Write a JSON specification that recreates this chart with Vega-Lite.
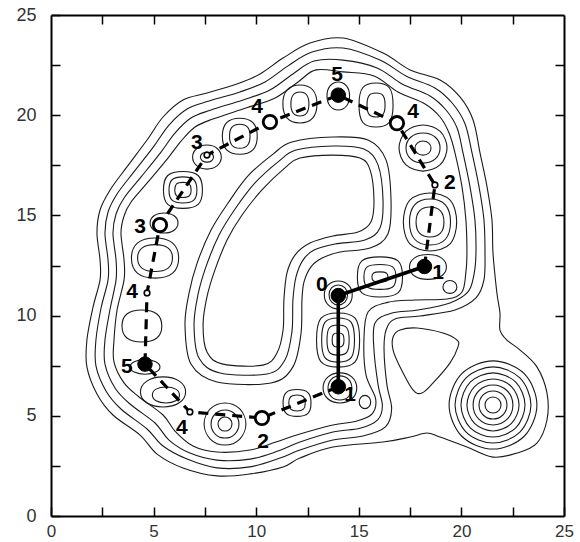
{
  "$schema": "https://vega.github.io/schema/vega-lite/v6.json",
  "width": 513,
  "height": 501,
  "autosize": {"type": "none"},
  "padding": {"left": 51, "top": 15, "right": 16, "bottom": 26},
  "background": "white",
  "config": {"view": {"stroke": null}},
  "datasets": {
    "contours": [
      {"c":"C1","i":0,"x":12.62,"y":23.6},{"c":"C1","i":1,"x":14.23,"y":23.85},{"c":"C1","i":2,"x":16.18,"y":23.1},{"c":"C1","i":3,"x":17.5,"y":22.26},{"c":"C1","i":4,"x":18.96,"y":21.76},{"c":"C1","i":5,"x":19.93,"y":20.91},{"c":"C1","i":6,"x":20.57,"y":19.76},{"c":"C1","i":7,"x":20.91,"y":18.11},{"c":"C1","i":8,"x":21.25,"y":16.42},{"c":"C1","i":9,"x":21.49,"y":14.77},{"c":"C1","i":10,"x":21.54,"y":13.12},{"c":"C1","i":11,"x":21.73,"y":11.13},{"c":"C1","i":12,"x":21.88,"y":10.13},{"c":"C1","i":13,"x":21.88,"y":9.28},{"c":"C1","i":14,"x":22.22,"y":8.78},{"c":"C1","i":15,"x":22.86,"y":8.28},{"c":"C1","i":16,"x":23.68,"y":7.44},{"c":"C1","i":17,"x":24.17,"y":6.14},{"c":"C1","i":18,"x":24.17,"y":4.79},{"c":"C1","i":19,"x":23.68,"y":3.64},{"c":"C1","i":20,"x":22.71,"y":3.14},{"c":"C1","i":21,"x":21.54,"y":2.94},{"c":"C1","i":22,"x":20.27,"y":3.44},{"c":"C1","i":23,"x":18.96,"y":3.94},{"c":"C1","i":24,"x":18.32,"y":4.14},{"c":"C1","i":25,"x":17.5,"y":3.94},{"c":"C1","i":26,"x":16.18,"y":3.69},{"c":"C1","i":27,"x":13.74,"y":3.44},{"c":"C1","i":28,"x":12.13,"y":2.89},{"c":"C1","i":29,"x":11.31,"y":2.45},{"c":"C1","i":30,"x":9.7,"y":2.1},{"c":"C1","i":31,"x":8.09,"y":2.0},{"c":"C1","i":32,"x":6.43,"y":2.4},{"c":"C1","i":33,"x":5.17,"y":3.09},{"c":"C1","i":34,"x":4.34,"y":4.04},{"c":"C1","i":35,"x":3.02,"y":5.04},{"c":"C1","i":36,"x":2.24,"y":6.09},{"c":"C1","i":37,"x":1.75,"y":7.44},{"c":"C1","i":38,"x":1.75,"y":8.78},{"c":"C1","i":39,"x":2.05,"y":10.43},{"c":"C1","i":40,"x":2.39,"y":11.78},{"c":"C1","i":41,"x":2.39,"y":12.77},{"c":"C1","i":42,"x":2.24,"y":14.12},{"c":"C1","i":43,"x":2.39,"y":15.27},{"c":"C1","i":44,"x":2.88,"y":16.27},{"c":"C1","i":45,"x":3.7,"y":17.42},{"c":"C1","i":46,"x":4.68,"y":18.76},{"c":"C1","i":47,"x":5.46,"y":19.91},{"c":"C1","i":48,"x":6.43,"y":20.76},{"c":"C1","i":49,"x":7.6,"y":21.11},{"c":"C1","i":50,"x":9.06,"y":21.56},{"c":"C1","i":51,"x":10.19,"y":22.06},{"c":"C1","i":52,"x":11.31,"y":22.85},
      {"c":"C2","i":0,"x":12.72,"y":23.15},{"c":"C2","i":1,"x":14.23,"y":23.35},{"c":"C2","i":2,"x":16.03,"y":22.75},{"c":"C2","i":3,"x":17.3,"y":21.96},{"c":"C2","i":4,"x":18.71,"y":21.36},{"c":"C2","i":5,"x":19.59,"y":20.56},{"c":"C2","i":6,"x":20.18,"y":19.56},{"c":"C2","i":7,"x":20.52,"y":18.11},{"c":"C2","i":8,"x":20.86,"y":16.42},{"c":"C2","i":9,"x":21.1,"y":14.77},{"c":"C2","i":10,"x":21.15,"y":13.12},{"c":"C2","i":11,"x":21.1,"y":11.78},{"c":"C2","i":12,"x":20.71,"y":10.88},{"c":"C2","i":13,"x":19.69,"y":10.28},{"c":"C2","i":14,"x":17.98,"y":9.98},{"c":"C2","i":15,"x":16.76,"y":9.83},{"c":"C2","i":16,"x":16.33,"y":9.28},{"c":"C2","i":17,"x":16.23,"y":8.28},{"c":"C2","i":18,"x":16.37,"y":6.54},{"c":"C2","i":19,"x":16.6,"y":5.35},{"c":"C2","i":20,"x":16.3,"y":4.45},{"c":"C2","i":21,"x":15.2,"y":3.99},{"c":"C2","i":22,"x":13.74,"y":3.79},{"c":"C2","i":23,"x":12.13,"y":3.29},{"c":"C2","i":24,"x":11.16,"y":2.89},{"c":"C2","i":25,"x":9.7,"y":2.45},{"c":"C2","i":26,"x":8.09,"y":2.4},{"c":"C2","i":27,"x":6.63,"y":2.84},{"c":"C2","i":28,"x":5.46,"y":3.49},{"c":"C2","i":29,"x":4.68,"y":4.34},{"c":"C2","i":30,"x":3.41,"y":5.34},{"c":"C2","i":31,"x":2.68,"y":6.24},{"c":"C2","i":32,"x":2.19,"y":7.49},{"c":"C2","i":33,"x":2.19,"y":8.78},{"c":"C2","i":34,"x":2.44,"y":10.38},{"c":"C2","i":35,"x":2.78,"y":11.78},{"c":"C2","i":36,"x":2.78,"y":12.77},{"c":"C2","i":37,"x":2.63,"y":14.12},{"c":"C2","i":38,"x":2.78,"y":15.17},{"c":"C2","i":39,"x":3.22,"y":16.07},{"c":"C2","i":40,"x":4.04,"y":17.17},{"c":"C2","i":41,"x":5.02,"y":18.46},{"c":"C2","i":42,"x":5.75,"y":19.51},{"c":"C2","i":43,"x":6.63,"y":20.31},{"c":"C2","i":44,"x":7.7,"y":20.71},{"c":"C2","i":45,"x":9.21,"y":21.16},{"c":"C2","i":46,"x":10.43,"y":21.66},{"c":"C2","i":47,"x":11.55,"y":22.46},
      {"c":"C3","i":0,"x":12.82,"y":22.7},{"c":"C3","i":1,"x":14.23,"y":22.75},{"c":"C3","i":2,"x":15.89,"y":22.36},{"c":"C3","i":3,"x":17.11,"y":21.56},{"c":"C3","i":4,"x":18.47,"y":20.96},{"c":"C3","i":5,"x":19.25,"y":20.26},{"c":"C3","i":6,"x":19.79,"y":19.36},{"c":"C3","i":7,"x":20.08,"y":18.11},{"c":"C3","i":8,"x":20.42,"y":16.42},{"c":"C3","i":9,"x":20.66,"y":14.77},{"c":"C3","i":10,"x":20.71,"y":13.12},{"c":"C3","i":11,"x":20.61,"y":12.03},{"c":"C3","i":12,"x":20.32,"y":11.18},{"c":"C3","i":13,"x":19.44,"y":10.63},{"c":"C3","i":14,"x":17.89,"y":10.28},{"c":"C3","i":15,"x":16.62,"y":10.13},{"c":"C3","i":16,"x":15.79,"y":9.63},{"c":"C3","i":17,"x":15.74,"y":8.28},{"c":"C3","i":18,"x":15.94,"y":6.54},{"c":"C3","i":19,"x":16.15,"y":5.5},{"c":"C3","i":20,"x":15.92,"y":4.8},{"c":"C3","i":21,"x":15.06,"y":4.38},{"c":"C3","i":22,"x":13.74,"y":4.19},{"c":"C3","i":23,"x":12.13,"y":3.69},{"c":"C3","i":24,"x":11.06,"y":3.24},{"c":"C3","i":25,"x":9.7,"y":2.84},{"c":"C3","i":26,"x":8.09,"y":2.79},{"c":"C3","i":27,"x":6.77,"y":3.14},{"c":"C3","i":28,"x":5.75,"y":3.79},{"c":"C3","i":29,"x":5.07,"y":4.64},{"c":"C3","i":30,"x":3.85,"y":5.59},{"c":"C3","i":31,"x":3.12,"y":6.39},{"c":"C3","i":32,"x":2.63,"y":7.58},{"c":"C3","i":33,"x":2.63,"y":8.78},{"c":"C3","i":34,"x":2.88,"y":10.33},{"c":"C3","i":35,"x":3.17,"y":11.78},{"c":"C3","i":36,"x":3.17,"y":12.77},{"c":"C3","i":37,"x":3.02,"y":14.12},{"c":"C3","i":38,"x":3.17,"y":15.07},{"c":"C3","i":39,"x":3.56,"y":15.87},{"c":"C3","i":40,"x":4.39,"y":16.92},{"c":"C3","i":41,"x":5.36,"y":18.16},{"c":"C3","i":42,"x":6.04,"y":19.11},{"c":"C3","i":43,"x":6.82,"y":19.86},{"c":"C3","i":44,"x":7.8,"y":20.26},{"c":"C3","i":45,"x":9.36,"y":20.76},{"c":"C3","i":46,"x":10.67,"y":21.26},{"c":"C3","i":47,"x":11.79,"y":22.06},
      {"c":"C4","i":0,"x":12.91,"y":22.26},{"c":"C4","i":1,"x":14.23,"y":22.16},{"c":"C4","i":2,"x":15.74,"y":21.96},{"c":"C4","i":3,"x":16.91,"y":21.16},{"c":"C4","i":4,"x":18.23,"y":20.56},{"c":"C4","i":5,"x":18.96,"y":19.91},{"c":"C4","i":6,"x":19.4,"y":19.11},{"c":"C4","i":7,"x":19.69,"y":18.11},{"c":"C4","i":8,"x":20.03,"y":16.42},{"c":"C4","i":9,"x":20.22,"y":14.77},{"c":"C4","i":10,"x":20.27,"y":13.12},{"c":"C4","i":11,"x":20.22,"y":12.18},{"c":"C4","i":12,"x":20.03,"y":11.18},{"c":"C4","i":13,"x":19.3,"y":10.83},{"c":"C4","i":14,"x":17.74,"y":10.78},{"c":"C4","i":15,"x":16.4,"y":10.66},{"c":"C4","i":16,"x":15.45,"y":10.18},{"c":"C4","i":17,"x":15.25,"y":8.78},{"c":"C4","i":18,"x":15.35,"y":7.04},{"c":"C4","i":19,"x":15.82,"y":5.85},{"c":"C4","i":20,"x":15.65,"y":5.1},{"c":"C4","i":21,"x":14.91,"y":4.74},{"c":"C4","i":22,"x":13.74,"y":4.54},{"c":"C4","i":23,"x":12.13,"y":4.09},{"c":"C4","i":24,"x":10.96,"y":3.69},{"c":"C4","i":25,"x":9.7,"y":3.29},{"c":"C4","i":26,"x":8.09,"y":3.19},{"c":"C4","i":27,"x":6.92,"y":3.49},{"c":"C4","i":28,"x":6.04,"y":4.24},{"c":"C4","i":29,"x":5.46,"y":5.04},{"c":"C4","i":30,"x":4.29,"y":5.94},{"c":"C4","i":31,"x":3.56,"y":6.64},{"c":"C4","i":32,"x":3.07,"y":7.68},{"c":"C4","i":33,"x":3.07,"y":8.78},{"c":"C4","i":34,"x":3.22,"y":10.28},{"c":"C4","i":35,"x":3.56,"y":11.78},{"c":"C4","i":36,"x":3.56,"y":12.77},{"c":"C4","i":37,"x":3.41,"y":14.12},{"c":"C4","i":38,"x":3.56,"y":14.97},{"c":"C4","i":39,"x":3.9,"y":15.67},{"c":"C4","i":40,"x":4.73,"y":16.67},{"c":"C4","i":41,"x":5.7,"y":17.86},{"c":"C4","i":42,"x":6.34,"y":18.71},{"c":"C4","i":43,"x":7.02,"y":19.41},{"c":"C4","i":44,"x":7.89,"y":19.81},{"c":"C4","i":45,"x":9.5,"y":20.36},{"c":"C4","i":46,"x":10.92,"y":20.86},{"c":"C4","i":47,"x":12.04,"y":21.66},
      {"c":"H1","i":0,"x":12.13,"y":17.86},{"c":"H1","i":1,"x":13.74,"y":18.01},{"c":"H1","i":2,"x":15.06,"y":17.86},{"c":"H1","i":3,"x":15.55,"y":17.27},{"c":"H1","i":4,"x":15.74,"y":15.77},{"c":"H1","i":5,"x":15.59,"y":14.67},{"c":"H1","i":6,"x":14.96,"y":14.17},{"c":"H1","i":7,"x":13.74,"y":13.97},{"c":"H1","i":8,"x":12.62,"y":13.62},{"c":"H1","i":9,"x":11.89,"y":13.02},{"c":"H1","i":10,"x":11.5,"y":12.13},{"c":"H1","i":11,"x":11.35,"y":10.78},{"c":"H1","i":12,"x":11.31,"y":9.28},{"c":"H1","i":13,"x":11.01,"y":8.13},{"c":"H1","i":14,"x":10.33,"y":7.53},{"c":"H1","i":15,"x":8.38,"y":7.58},{"c":"H1","i":16,"x":7.6,"y":8.18},{"c":"H1","i":17,"x":7.41,"y":9.53},{"c":"H1","i":18,"x":7.6,"y":10.93},{"c":"H1","i":19,"x":7.99,"y":12.28},{"c":"H1","i":20,"x":8.58,"y":13.77},{"c":"H1","i":21,"x":9.31,"y":15.02},{"c":"H1","i":22,"x":10.28,"y":16.27},{"c":"H1","i":23,"x":11.4,"y":17.37},
      {"c":"H2","i":0,"x":11.94,"y":18.26},{"c":"H2","i":1,"x":13.74,"y":18.46},{"c":"H2","i":2,"x":15.25,"y":18.31},{"c":"H2","i":3,"x":15.94,"y":17.51},{"c":"H2","i":4,"x":16.18,"y":15.77},{"c":"H2","i":5,"x":16.03,"y":14.37},{"c":"H2","i":6,"x":15.3,"y":13.77},{"c":"H2","i":7,"x":13.84,"y":13.57},{"c":"H2","i":8,"x":12.82,"y":13.27},{"c":"H2","i":9,"x":12.28,"y":12.77},{"c":"H2","i":10,"x":11.94,"y":11.93},{"c":"H2","i":11,"x":11.79,"y":10.78},{"c":"H2","i":12,"x":11.74,"y":9.18},{"c":"H2","i":13,"x":11.4,"y":7.78},{"c":"H2","i":14,"x":10.53,"y":7.09},{"c":"H2","i":15,"x":8.24,"y":7.14},{"c":"H2","i":16,"x":7.21,"y":7.88},{"c":"H2","i":17,"x":6.97,"y":9.53},{"c":"H2","i":18,"x":7.16,"y":11.03},{"c":"H2","i":19,"x":7.55,"y":12.43},{"c":"H2","i":20,"x":8.19,"y":14.02},{"c":"H2","i":21,"x":8.97,"y":15.32},{"c":"H2","i":22,"x":9.94,"y":16.62},{"c":"H2","i":23,"x":11.11,"y":17.71},
      {"c":"H3","i":0,"x":11.74,"y":18.66},{"c":"H3","i":1,"x":13.74,"y":18.91},{"c":"H3","i":2,"x":15.45,"y":18.76},{"c":"H3","i":3,"x":16.33,"y":17.76},{"c":"H3","i":4,"x":16.57,"y":15.77},{"c":"H3","i":5,"x":16.42,"y":14.07},{"c":"H3","i":6,"x":15.55,"y":13.37},{"c":"H3","i":7,"x":14.08,"y":13.17},{"c":"H3","i":8,"x":13.21,"y":12.87},{"c":"H3","i":9,"x":12.67,"y":12.43},{"c":"H3","i":10,"x":12.33,"y":11.68},{"c":"H3","i":11,"x":12.23,"y":10.78},{"c":"H3","i":12,"x":12.18,"y":9.08},{"c":"H3","i":13,"x":11.79,"y":7.44},{"c":"H3","i":14,"x":10.72,"y":6.64},{"c":"H3","i":15,"x":8.09,"y":6.69},{"c":"H3","i":16,"x":6.82,"y":7.58},{"c":"H3","i":17,"x":6.53,"y":9.53},{"c":"H3","i":18,"x":6.73,"y":11.13},{"c":"H3","i":19,"x":7.12,"y":12.62},{"c":"H3","i":20,"x":7.8,"y":14.27},{"c":"H3","i":21,"x":8.63,"y":15.62},{"c":"H3","i":22,"x":9.6,"y":16.97},{"c":"H3","i":23,"x":10.82,"y":18.06},
      {"c":"T","i":0,"x":16.67,"y":8.93},{"c":"T","i":1,"x":17.01,"y":9.28},{"c":"T","i":2,"x":17.84,"y":9.38},{"c":"T","i":3,"x":19.1,"y":9.13},{"c":"T","i":4,"x":19.79,"y":8.78},{"c":"T","i":5,"x":19.83,"y":8.43},{"c":"T","i":6,"x":19.44,"y":7.63},{"c":"T","i":7,"x":18.62,"y":6.64},{"c":"T","i":8,"x":18.08,"y":6.14},{"c":"T","i":9,"x":17.64,"y":6.29},{"c":"T","i":10,"x":17.01,"y":7.44},{"c":"T","i":11,"x":16.67,"y":8.28},
      {"c":"B1","i":0,"x":21.93,"y":5.54},{"c":"B1","i":1,"x":21.82,"y":5.82},{"c":"B1","i":2,"x":21.54,"y":5.94},{"c":"B1","i":3,"x":21.26,"y":5.82},{"c":"B1","i":4,"x":21.15,"y":5.54},{"c":"B1","i":5,"x":21.26,"y":5.26},{"c":"B1","i":6,"x":21.54,"y":5.14},{"c":"B1","i":7,"x":21.82,"y":5.26},
      {"c":"B2","i":0,"x":22.22,"y":5.54},{"c":"B2","i":1,"x":22.02,"y":6.04},{"c":"B2","i":2,"x":21.54,"y":6.24},{"c":"B2","i":3,"x":21.06,"y":6.04},{"c":"B2","i":4,"x":20.86,"y":5.54},{"c":"B2","i":5,"x":21.06,"y":5.04},{"c":"B2","i":6,"x":21.54,"y":4.84},{"c":"B2","i":7,"x":22.02,"y":5.04},
      {"c":"B3","i":0,"x":22.51,"y":5.54},{"c":"B3","i":1,"x":22.23,"y":6.25},{"c":"B3","i":2,"x":21.54,"y":6.54},{"c":"B3","i":3,"x":20.85,"y":6.25},{"c":"B3","i":4,"x":20.57,"y":5.54},{"c":"B3","i":5,"x":20.85,"y":4.83},{"c":"B3","i":6,"x":21.54,"y":4.54},{"c":"B3","i":7,"x":22.23,"y":4.83},
      {"c":"B4","i":0,"x":22.81,"y":5.54},{"c":"B4","i":1,"x":22.44,"y":6.46},{"c":"B4","i":2,"x":21.54,"y":6.84},{"c":"B4","i":3,"x":20.64,"y":6.46},{"c":"B4","i":4,"x":20.27,"y":5.54},{"c":"B4","i":5,"x":20.64,"y":4.62},{"c":"B4","i":6,"x":21.54,"y":4.24},{"c":"B4","i":7,"x":22.44,"y":4.62},
      {"c":"B5","i":0,"x":23.1,"y":5.54},{"c":"B5","i":1,"x":22.65,"y":6.68},{"c":"B5","i":2,"x":21.54,"y":7.14},{"c":"B5","i":3,"x":20.43,"y":6.68},{"c":"B5","i":4,"x":19.98,"y":5.54},{"c":"B5","i":5,"x":20.43,"y":4.4},{"c":"B5","i":6,"x":21.54,"y":3.94},{"c":"B5","i":7,"x":22.65,"y":4.4},
      {"c":"B6","i":0,"x":23.39,"y":5.54},{"c":"B6","i":1,"x":22.85,"y":6.89},{"c":"B6","i":2,"x":21.54,"y":7.44},{"c":"B6","i":3,"x":20.23,"y":6.89},{"c":"B6","i":4,"x":19.69,"y":5.54},{"c":"B6","i":5,"x":20.23,"y":4.19},{"c":"B6","i":6,"x":21.54,"y":3.64},{"c":"B6","i":7,"x":22.85,"y":4.19},
      {"c":"B7","i":0,"x":23.68,"y":5.54},{"c":"B7","i":1,"x":23.06,"y":7.1},{"c":"B7","i":2,"x":21.54,"y":7.74},{"c":"B7","i":3,"x":20.02,"y":7.1},{"c":"B7","i":4,"x":19.4,"y":5.54},{"c":"B7","i":5,"x":20.02,"y":3.98},{"c":"B7","i":6,"x":21.54,"y":3.34},{"c":"B7","i":7,"x":23.06,"y":3.98},
      {"c":"c2a","i":0,"x":8.82,"y":4.59},{"c":"c2a","i":1,"x":8.72,"y":4.84},{"c":"c2a","i":2,"x":8.48,"y":4.94},{"c":"c2a","i":3,"x":8.24,"y":4.84},{"c":"c2a","i":4,"x":8.14,"y":4.59},{"c":"c2a","i":5,"x":8.24,"y":4.34},{"c":"c2a","i":6,"x":8.48,"y":4.24},{"c":"c2a","i":7,"x":8.72,"y":4.34},
      {"c":"c2b","i":0,"x":9.16,"y":4.59},{"c":"c2b","i":1,"x":8.96,"y":5.09},{"c":"c2b","i":2,"x":8.48,"y":5.29},{"c":"c2b","i":3,"x":8.0,"y":5.09},{"c":"c2b","i":4,"x":7.8,"y":4.59},{"c":"c2b","i":5,"x":8.0,"y":4.09},{"c":"c2b","i":6,"x":8.48,"y":3.89},{"c":"c2b","i":7,"x":8.96,"y":4.09},
      {"c":"c2c","i":0,"x":9.5,"y":4.59},{"c":"c2c","i":1,"x":9.2,"y":5.34},{"c":"c2c","i":2,"x":8.48,"y":5.64},{"c":"c2c","i":3,"x":7.76,"y":5.34},{"c":"c2c","i":4,"x":7.46,"y":4.59},{"c":"c2c","i":5,"x":7.76,"y":3.84},{"c":"c2c","i":6,"x":8.48,"y":3.54},{"c":"c2c","i":7,"x":9.2,"y":3.84},
      {"c":"c3a","i":0,"x":6.26,"y":6.04},{"c":"c3a","i":1,"x":6.08,"y":6.33},{"c":"c3a","i":2,"x":5.6,"y":6.44},{"c":"c3a","i":3,"x":5.12,"y":6.33},{"c":"c3a","i":4,"x":4.94,"y":6.04},{"c":"c3a","i":5,"x":5.12,"y":5.75},{"c":"c3a","i":6,"x":5.6,"y":5.64},{"c":"c3a","i":7,"x":6.08,"y":5.75},
      {"c":"c3b","i":0,"x":6.56,"y":6.19},{"c":"c3b","i":1,"x":6.25,"y":6.73},{"c":"c3b","i":2,"x":5.46,"y":6.94},{"c":"c3b","i":3,"x":4.67,"y":6.73},{"c":"c3b","i":4,"x":4.36,"y":6.19},{"c":"c3b","i":5,"x":4.67,"y":5.65},{"c":"c3b","i":6,"x":5.46,"y":5.44},{"c":"c3b","i":7,"x":6.25,"y":5.65},
      {"c":"c4","i":0,"x":5.31,"y":7.44},{"c":"c4","i":1,"x":5.1,"y":7.7},{"c":"c4","i":2,"x":4.58,"y":7.81},{"c":"c4","i":3,"x":4.06,"y":7.7},{"c":"c4","i":4,"x":3.85,"y":7.44},{"c":"c4","i":5,"x":4.06,"y":7.18},{"c":"c4","i":6,"x":4.58,"y":7.07},{"c":"c4","i":7,"x":5.1,"y":7.18},
      {"c":"c5","i":0,"x":5.4,"y":9.48},{"c":"c5","i":1,"x":5.16,"y":10.08},{"c":"c5","i":2,"x":4.43,"y":10.28},{"c":"c5","i":3,"x":3.7,"y":10.08},{"c":"c5","i":4,"x":3.46,"y":9.48},{"c":"c5","i":5,"x":3.7,"y":8.88},{"c":"c5","i":6,"x":4.43,"y":8.68},{"c":"c5","i":7,"x":5.16,"y":8.88},
      {"c":"c6a","i":0,"x":5.92,"y":12.87},{"c":"c6a","i":1,"x":5.71,"y":13.37},{"c":"c6a","i":2,"x":5.07,"y":13.54},{"c":"c6a","i":3,"x":4.43,"y":13.37},{"c":"c6a","i":4,"x":4.22,"y":12.87},{"c":"c6a","i":5,"x":4.43,"y":12.37},{"c":"c6a","i":6,"x":5.07,"y":12.2},{"c":"c6a","i":7,"x":5.71,"y":12.37},
      {"c":"c6b","i":0,"x":6.22,"y":12.87},{"c":"c6b","i":1,"x":5.93,"y":13.62},{"c":"c6b","i":2,"x":5.07,"y":13.87},{"c":"c6b","i":3,"x":4.21,"y":13.62},{"c":"c6b","i":4,"x":3.92,"y":12.87},{"c":"c6b","i":5,"x":4.21,"y":12.12},{"c":"c6b","i":6,"x":5.07,"y":11.87},{"c":"c6b","i":7,"x":5.93,"y":12.12},
      {"c":"c7","i":0,"x":6.19,"y":14.62},{"c":"c7","i":1,"x":6.0,"y":14.98},{"c":"c7","i":2,"x":5.51,"y":15.12},{"c":"c7","i":3,"x":5.02,"y":14.98},{"c":"c7","i":4,"x":4.83,"y":14.62},{"c":"c7","i":5,"x":5.02,"y":14.26},{"c":"c7","i":6,"x":5.51,"y":14.12},{"c":"c7","i":7,"x":6.0,"y":14.26},
      {"c":"c8a","i":0,"x":6.83,"y":16.27},{"c":"c8a","i":1,"x":6.74,"y":16.57},{"c":"c8a","i":2,"x":6.43,"y":16.65},{"c":"c8a","i":3,"x":6.12,"y":16.57},{"c":"c8a","i":4,"x":6.03,"y":16.27},{"c":"c8a","i":5,"x":6.12,"y":15.97},{"c":"c8a","i":6,"x":6.43,"y":15.89},{"c":"c8a","i":7,"x":6.74,"y":15.97},
      {"c":"c8b","i":0,"x":7.11,"y":16.27},{"c":"c8b","i":1,"x":6.96,"y":16.78},{"c":"c8b","i":2,"x":6.43,"y":16.92},{"c":"c8b","i":3,"x":5.9,"y":16.78},{"c":"c8b","i":4,"x":5.75,"y":16.27},{"c":"c8b","i":5,"x":5.9,"y":15.76},{"c":"c8b","i":6,"x":6.43,"y":15.62},{"c":"c8b","i":7,"x":6.96,"y":15.76},
      {"c":"c8c","i":0,"x":7.38,"y":16.27},{"c":"c8c","i":1,"x":7.17,"y":16.99},{"c":"c8c","i":2,"x":6.43,"y":17.19},{"c":"c8c","i":3,"x":5.69,"y":16.99},{"c":"c8c","i":4,"x":5.48,"y":16.27},{"c":"c8c","i":5,"x":5.69,"y":15.55},{"c":"c8c","i":6,"x":6.43,"y":15.35},{"c":"c8c","i":7,"x":7.17,"y":15.55},
      {"c":"c9a","i":0,"x":7.92,"y":17.91},{"c":"c9a","i":1,"x":7.83,"y":18.09},{"c":"c9a","i":2,"x":7.6,"y":18.16},{"c":"c9a","i":3,"x":7.37,"y":18.09},{"c":"c9a","i":4,"x":7.28,"y":17.91},{"c":"c9a","i":5,"x":7.37,"y":17.73},{"c":"c9a","i":6,"x":7.6,"y":17.66},{"c":"c9a","i":7,"x":7.83,"y":17.73},
      {"c":"c9b","i":0,"x":8.3,"y":17.91},{"c":"c9b","i":1,"x":8.1,"y":18.34},{"c":"c9b","i":2,"x":7.6,"y":18.51},{"c":"c9b","i":3,"x":7.1,"y":18.34},{"c":"c9b","i":4,"x":6.9,"y":17.91},{"c":"c9b","i":5,"x":7.1,"y":17.48},{"c":"c9b","i":6,"x":7.6,"y":17.31},{"c":"c9b","i":7,"x":8.1,"y":17.48},
      {"c":"c10a","i":0,"x":9.7,"y":18.95},{"c":"c10a","i":1,"x":9.58,"y":19.4},{"c":"c10a","i":2,"x":9.2,"y":19.55},{"c":"c10a","i":3,"x":8.82,"y":19.4},{"c":"c10a","i":4,"x":8.7,"y":18.95},{"c":"c10a","i":5,"x":8.82,"y":18.5},{"c":"c10a","i":6,"x":9.2,"y":18.35},{"c":"c10a","i":7,"x":9.58,"y":18.5},
      {"c":"c10b","i":0,"x":10.05,"y":18.95},{"c":"c10b","i":1,"x":9.84,"y":19.63},{"c":"c10b","i":2,"x":9.2,"y":19.85},{"c":"c10b","i":3,"x":8.56,"y":19.63},{"c":"c10b","i":4,"x":8.35,"y":18.95},{"c":"c10b","i":5,"x":8.56,"y":18.27},{"c":"c10b","i":6,"x":9.2,"y":18.05},{"c":"c10b","i":7,"x":9.84,"y":18.27},
      {"c":"c11a","i":0,"x":12.57,"y":20.56},{"c":"c11a","i":1,"x":12.46,"y":21.01},{"c":"c11a","i":2,"x":12.13,"y":21.16},{"c":"c11a","i":3,"x":11.8,"y":21.01},{"c":"c11a","i":4,"x":11.69,"y":20.56},{"c":"c11a","i":5,"x":11.8,"y":20.11},{"c":"c11a","i":6,"x":12.13,"y":19.96},{"c":"c11a","i":7,"x":12.46,"y":20.11},
      {"c":"c11b","i":0,"x":12.96,"y":20.56},{"c":"c11b","i":1,"x":12.75,"y":21.27},{"c":"c11b","i":2,"x":12.13,"y":21.51},{"c":"c11b","i":3,"x":11.51,"y":21.27},{"c":"c11b","i":4,"x":11.3,"y":20.56},{"c":"c11b","i":5,"x":11.51,"y":19.85},{"c":"c11b","i":6,"x":12.13,"y":19.61},{"c":"c11b","i":7,"x":12.75,"y":19.85},
      {"c":"c12","i":0,"x":14.55,"y":20.96},{"c":"c12","i":1,"x":14.4,"y":21.46},{"c":"c12","i":2,"x":14.0,"y":21.66},{"c":"c12","i":3,"x":13.6,"y":21.46},{"c":"c12","i":4,"x":13.45,"y":20.96},{"c":"c12","i":5,"x":13.6,"y":20.46},{"c":"c12","i":6,"x":14.0,"y":20.26},{"c":"c12","i":7,"x":14.4,"y":20.46},
      {"c":"c13a","i":0,"x":16.28,"y":20.51},{"c":"c13a","i":1,"x":16.18,"y":20.98},{"c":"c13a","i":2,"x":15.84,"y":21.11},{"c":"c13a","i":3,"x":15.5,"y":20.98},{"c":"c13a","i":4,"x":15.4,"y":20.51},{"c":"c13a","i":5,"x":15.5,"y":20.04},{"c":"c13a","i":6,"x":15.84,"y":19.91},{"c":"c13a","i":7,"x":16.18,"y":20.04},
      {"c":"c13b","i":0,"x":16.67,"y":20.51},{"c":"c13b","i":1,"x":16.49,"y":21.37},{"c":"c13b","i":2,"x":15.84,"y":21.61},{"c":"c13b","i":3,"x":15.19,"y":21.37},{"c":"c13b","i":4,"x":15.01,"y":20.51},{"c":"c13b","i":5,"x":15.19,"y":19.65},{"c":"c13b","i":6,"x":15.84,"y":19.41},{"c":"c13b","i":7,"x":16.49,"y":19.65},
      {"c":"c15a","i":0,"x":18.52,"y":18.36},{"c":"c15a","i":1,"x":18.41,"y":18.61},{"c":"c15a","i":2,"x":18.13,"y":18.71},{"c":"c15a","i":3,"x":17.85,"y":18.61},{"c":"c15a","i":4,"x":17.74,"y":18.36},{"c":"c15a","i":5,"x":17.85,"y":18.11},{"c":"c15a","i":6,"x":18.13,"y":18.01},{"c":"c15a","i":7,"x":18.41,"y":18.11},
      {"c":"c15b","i":0,"x":18.96,"y":18.36},{"c":"c15b","i":1,"x":18.73,"y":18.9},{"c":"c15b","i":2,"x":18.13,"y":19.11},{"c":"c15b","i":3,"x":17.53,"y":18.9},{"c":"c15b","i":4,"x":17.3,"y":18.36},{"c":"c15b","i":5,"x":17.53,"y":17.82},{"c":"c15b","i":6,"x":18.13,"y":17.61},{"c":"c15b","i":7,"x":18.73,"y":17.82},
      {"c":"c15c","i":0,"x":19.3,"y":18.36},{"c":"c15c","i":1,"x":18.97,"y":19.19},{"c":"c15c","i":2,"x":18.13,"y":19.51},{"c":"c15c","i":3,"x":17.29,"y":19.19},{"c":"c15c","i":4,"x":16.96,"y":18.36},{"c":"c15c","i":5,"x":17.29,"y":17.53},{"c":"c15c","i":6,"x":18.13,"y":17.21},{"c":"c15c","i":7,"x":18.97,"y":17.53},
      {"c":"c17a","i":0,"x":19.15,"y":14.67},{"c":"c17a","i":1,"x":18.98,"y":15.23},{"c":"c17a","i":2,"x":18.47,"y":15.42},{"c":"c17a","i":3,"x":17.96,"y":15.23},{"c":"c17a","i":4,"x":17.79,"y":14.67},{"c":"c17a","i":5,"x":17.96,"y":14.11},{"c":"c17a","i":6,"x":18.47,"y":13.92},{"c":"c17a","i":7,"x":18.98,"y":14.11},
      {"c":"c17b","i":0,"x":19.47,"y":14.67},{"c":"c17b","i":1,"x":19.22,"y":15.53},{"c":"c17b","i":2,"x":18.47,"y":15.82},{"c":"c17b","i":3,"x":17.72,"y":15.53},{"c":"c17b","i":4,"x":17.47,"y":14.67},{"c":"c17b","i":5,"x":17.72,"y":13.81},{"c":"c17b","i":6,"x":18.47,"y":13.52},{"c":"c17b","i":7,"x":19.22,"y":13.81},
      {"c":"c17c","i":0,"x":19.77,"y":14.67},{"c":"c17c","i":1,"x":19.45,"y":15.76},{"c":"c17c","i":2,"x":18.47,"y":16.12},{"c":"c17c","i":3,"x":17.49,"y":15.76},{"c":"c17c","i":4,"x":17.17,"y":14.67},{"c":"c17c","i":5,"x":17.49,"y":13.58},{"c":"c17c","i":6,"x":18.47,"y":13.22},{"c":"c17c","i":7,"x":19.45,"y":13.58},
      {"c":"c18","i":0,"x":19.27,"y":12.43},{"c":"c18","i":1,"x":19.02,"y":12.88},{"c":"c18","i":2,"x":18.37,"y":13.05},{"c":"c18","i":3,"x":17.72,"y":12.88},{"c":"c18","i":4,"x":17.47,"y":12.43},{"c":"c18","i":5,"x":17.72,"y":11.98},{"c":"c18","i":6,"x":18.37,"y":11.81},{"c":"c18","i":7,"x":19.02,"y":11.98},
      {"c":"c19","i":0,"x":19.78,"y":11.43},{"c":"c19","i":1,"x":19.68,"y":11.66},{"c":"c19","i":2,"x":19.44,"y":11.75},{"c":"c19","i":3,"x":19.2,"y":11.66},{"c":"c19","i":4,"x":19.1,"y":11.43},{"c":"c19","i":5,"x":19.2,"y":11.2},{"c":"c19","i":6,"x":19.44,"y":11.11},{"c":"c19","i":7,"x":19.68,"y":11.2},
      {"c":"c20a","i":0,"x":16.42,"y":11.93},{"c":"c20a","i":1,"x":16.34,"y":12.13},{"c":"c20a","i":2,"x":16.03,"y":12.18},{"c":"c20a","i":3,"x":15.72,"y":12.13},{"c":"c20a","i":4,"x":15.64,"y":11.93},{"c":"c20a","i":5,"x":15.72,"y":11.73},{"c":"c20a","i":6,"x":16.03,"y":11.68},{"c":"c20a","i":7,"x":16.34,"y":11.73},
      {"c":"c20b","i":0,"x":16.81,"y":11.93},{"c":"c20b","i":1,"x":16.65,"y":12.43},{"c":"c20b","i":2,"x":16.03,"y":12.55},{"c":"c20b","i":3,"x":15.41,"y":12.43},{"c":"c20b","i":4,"x":15.25,"y":11.93},{"c":"c20b","i":5,"x":15.41,"y":11.43},{"c":"c20b","i":6,"x":16.03,"y":11.31},{"c":"c20b","i":7,"x":16.65,"y":11.43},
      {"c":"c20c","i":0,"x":17.13,"y":11.93},{"c":"c20c","i":1,"x":16.91,"y":12.73},{"c":"c20c","i":2,"x":16.03,"y":12.93},{"c":"c20c","i":3,"x":15.15,"y":12.73},{"c":"c20c","i":4,"x":14.93,"y":11.93},{"c":"c20c","i":5,"x":15.15,"y":11.13},{"c":"c20c","i":6,"x":16.03,"y":10.93},{"c":"c20c","i":7,"x":16.91,"y":11.13},
      {"c":"c21a","i":0,"x":14.45,"y":11.03},{"c":"c21a","i":1,"x":14.32,"y":11.39},{"c":"c21a","i":2,"x":14.0,"y":11.53},{"c":"c21a","i":3,"x":13.68,"y":11.39},{"c":"c21a","i":4,"x":13.55,"y":11.03},{"c":"c21a","i":5,"x":13.68,"y":10.67},{"c":"c21a","i":6,"x":14.0,"y":10.53},{"c":"c21a","i":7,"x":14.32,"y":10.67},
      {"c":"c21b","i":0,"x":14.68,"y":11.03},{"c":"c21b","i":1,"x":14.49,"y":11.53},{"c":"c21b","i":2,"x":14.0,"y":11.73},{"c":"c21b","i":3,"x":13.51,"y":11.53},{"c":"c21b","i":4,"x":13.32,"y":11.03},{"c":"c21b","i":5,"x":13.51,"y":10.53},{"c":"c21b","i":6,"x":14.0,"y":10.33},{"c":"c21b","i":7,"x":14.49,"y":10.53},
      {"c":"c22a","i":0,"x":14.28,"y":8.78},{"c":"c22a","i":1,"x":14.22,"y":9.06},{"c":"c22a","i":2,"x":13.99,"y":9.13},{"c":"c22a","i":3,"x":13.76,"y":9.06},{"c":"c22a","i":4,"x":13.7,"y":8.78},{"c":"c22a","i":5,"x":13.76,"y":8.5},{"c":"c22a","i":6,"x":13.99,"y":8.43},{"c":"c22a","i":7,"x":14.22,"y":8.5},
      {"c":"c22b","i":0,"x":14.53,"y":8.78},{"c":"c22b","i":1,"x":14.42,"y":9.38},{"c":"c22b","i":2,"x":13.99,"y":9.53},{"c":"c22b","i":3,"x":13.56,"y":9.38},{"c":"c22b","i":4,"x":13.45,"y":8.78},{"c":"c22b","i":5,"x":13.56,"y":8.18},{"c":"c22b","i":6,"x":13.99,"y":8.03},{"c":"c22b","i":7,"x":14.42,"y":8.18},
      {"c":"c22c","i":0,"x":14.79,"y":8.78},{"c":"c22c","i":1,"x":14.63,"y":9.66},{"c":"c22c","i":2,"x":13.99,"y":9.88},{"c":"c22c","i":3,"x":13.35,"y":9.66},{"c":"c22c","i":4,"x":13.19,"y":8.78},{"c":"c22c","i":5,"x":13.35,"y":7.9},{"c":"c22c","i":6,"x":13.99,"y":7.68},{"c":"c22c","i":7,"x":14.63,"y":7.9},
      {"c":"c22d","i":0,"x":15.04,"y":8.78},{"c":"c22d","i":1,"x":14.83,"y":9.86},{"c":"c22d","i":2,"x":13.99,"y":10.13},{"c":"c22d","i":3,"x":13.15,"y":9.86},{"c":"c22d","i":4,"x":12.94,"y":8.78},{"c":"c22d","i":5,"x":13.15,"y":7.7},{"c":"c22d","i":6,"x":13.99,"y":7.43},{"c":"c22d","i":7,"x":14.83,"y":7.7},
      {"c":"c23a","i":0,"x":14.66,"y":6.39},{"c":"c23a","i":1,"x":14.5,"y":6.82},{"c":"c23a","i":2,"x":14.08,"y":6.99},{"c":"c23a","i":3,"x":13.66,"y":6.82},{"c":"c23a","i":4,"x":13.5,"y":6.39},{"c":"c23a","i":5,"x":13.66,"y":5.96},{"c":"c23a","i":6,"x":14.08,"y":5.79},{"c":"c23a","i":7,"x":14.5,"y":5.96},
      {"c":"c23b","i":0,"x":14.9,"y":6.39},{"c":"c23b","i":1,"x":14.67,"y":6.93},{"c":"c23b","i":2,"x":14.08,"y":7.14},{"c":"c23b","i":3,"x":13.49,"y":6.93},{"c":"c23b","i":4,"x":13.26,"y":6.39},{"c":"c23b","i":5,"x":13.49,"y":5.85},{"c":"c23b","i":6,"x":14.08,"y":5.64},{"c":"c23b","i":7,"x":14.67,"y":5.85},
      {"c":"c24","i":0,"x":15.58,"y":5.69},{"c":"c24","i":1,"x":15.5,"y":5.92},{"c":"c24","i":2,"x":15.3,"y":6.02},{"c":"c24","i":3,"x":15.1,"y":5.92},{"c":"c24","i":4,"x":15.02,"y":5.69},{"c":"c24","i":5,"x":15.1,"y":5.46},{"c":"c24","i":6,"x":15.3,"y":5.36},{"c":"c24","i":7,"x":15.5,"y":5.46},
      {"c":"c25a","i":0,"x":12.39,"y":5.64},{"c":"c25a","i":1,"x":12.3,"y":5.95},{"c":"c25a","i":2,"x":11.99,"y":6.04},{"c":"c25a","i":3,"x":11.68,"y":5.95},{"c":"c25a","i":4,"x":11.59,"y":5.64},{"c":"c25a","i":5,"x":11.68,"y":5.33},{"c":"c25a","i":6,"x":11.99,"y":5.24},{"c":"c25a","i":7,"x":12.3,"y":5.33},
      {"c":"c25b","i":0,"x":12.67,"y":5.64},{"c":"c25b","i":1,"x":12.52,"y":6.16},{"c":"c25b","i":2,"x":11.99,"y":6.31},{"c":"c25b","i":3,"x":11.46,"y":6.16},{"c":"c25b","i":4,"x":11.31,"y":5.64},{"c":"c25b","i":5,"x":11.46,"y":5.12},{"c":"c25b","i":6,"x":11.99,"y":4.97},{"c":"c25b","i":7,"x":12.52,"y":5.12}
    ],
    "pathSolid": [
      {"i":0,"x":18.2,"y":12.45},{"i":1,"x":14.0,"y":11.0},{"i":2,"x":14.0,"y":6.45}
    ],
    "pathDash": [
      {"i":0,"x":18.2,"y":12.45},{"i":1,"x":18.71,"y":16.52},{"i":2,"x":16.86,"y":19.6},{"i":3,"x":14.0,"y":21.0},{"i":4,"x":10.67,"y":19.66},{"i":5,"x":7.6,"y":18.01},{"i":6,"x":5.31,"y":14.52},{"i":7,"x":4.68,"y":11.13},{"i":8,"x":4.58,"y":7.58},{"i":9,"x":6.77,"y":5.19},{"i":10,"x":10.28,"y":4.89},{"i":11,"x":14.0,"y":6.45}
    ],
    "filledPts": [
      {"x":14.0,"y":11.0},{"x":18.2,"y":12.45},{"x":14.0,"y":6.45},{"x":14.0,"y":21.0},{"x":4.58,"y":7.58}
    ],
    "openPts": [
      {"x":16.86,"y":19.6},{"x":10.67,"y":19.66},{"x":5.31,"y":14.52},{"x":10.28,"y":4.89}
    ],
    "smallPts": [
      {"x":18.71,"y":16.52},{"x":7.6,"y":18.01},{"x":4.68,"y":11.13},{"x":6.77,"y":5.19}
    ],
    "labels": [
      {"t":"5","x":13.94,"y":22.0},{"t":"4","x":17.64,"y":20.16},{"t":"2","x":19.44,"y":16.62},{"t":"1","x":18.86,"y":12.13},{"t":"0","x":13.2,"y":11.53},{"t":"1","x":14.57,"y":6.04},{"t":"2","x":10.33,"y":3.69},{"t":"4","x":6.38,"y":4.39},{"t":"5","x":3.7,"y":7.44},{"t":"4","x":3.95,"y":11.18},{"t":"3","x":4.34,"y":14.42},{"t":"3","x":7.11,"y":18.61},{"t":"4","x":10.04,"y":20.41}
    ]
  },
  "resolve": {"axis": {"x": "independent", "y": "independent"}},
  "layer": [
    {
      "data": {"name": "contours"},
      "mark": {"type": "line", "interpolate": "cardinal-closed", "stroke": "#1a1a1a", "strokeWidth": 1.1},
      "encoding": {
        "x": {"field": "x", "type": "quantitative", "scale": {"domain": [0, 25], "nice": false, "zero": false},
              "axis": {"orient": "bottom", "title": null, "grid": false, "values": [0, 2.5, 5, 7.5, 10, 12.5, 15, 17.5, 20, 22.5, 25],
                       "labelExpr": "datum.value % 5 == 0 ? datum.label : ''", "tickSize": -9, "tickWidth": 1.5, "tickColor": "black",
                       "domainColor": "black", "domainWidth": 2, "labelPadding": 16, "labelFont": "Liberation Sans", "labelFontSize": 17,
                       "labelColor": "#333", "labelFlush": false, "labelOverlap": false, "labelBaseline": "top"}},
        "y": {"field": "y", "type": "quantitative", "scale": {"domain": [0, 25], "nice": false, "zero": false},
              "axis": {"orient": "left", "title": null, "grid": false, "values": [0, 2.5, 5, 7.5, 10, 12.5, 15, 17.5, 20, 22.5, 25],
                       "labelExpr": "datum.value % 5 == 0 ? datum.label : ''", "tickSize": -9, "tickWidth": 1.5, "tickColor": "black",
                       "domainColor": "black", "domainWidth": 2, "labelPadding": 24, "labelFont": "Liberation Sans", "labelFontSize": 18,
                       "labelColor": "#333", "labelFlush": false, "labelOverlap": false}},
        "detail": {"field": "c", "type": "nominal"},
        "order": {"field": "i", "type": "quantitative"}
      }
    },
    {
      "data": {"name": "pathSolid"},
      "mark": {"type": "line", "stroke": "black", "strokeWidth": 3.6},
      "encoding": {
        "x": {"field": "x", "type": "quantitative", "scale": {"domain": [0, 25]}, "axis": null},
        "y": {"field": "y", "type": "quantitative", "scale": {"domain": [0, 25]}, "axis": null},
        "order": {"field": "i", "type": "quantitative"}
      }
    },
    {
      "data": {"name": "pathDash"},
      "mark": {"type": "line", "stroke": "black", "strokeWidth": 3.2, "strokeDash": [10, 7]},
      "encoding": {
        "x": {"field": "x", "type": "quantitative", "scale": {"domain": [0, 25]}, "axis": null},
        "y": {"field": "y", "type": "quantitative", "scale": {"domain": [0, 25]}, "axis": null},
        "order": {"field": "i", "type": "quantitative"}
      }
    },
    {
      "data": {"name": "filledPts"},
      "mark": {"type": "point", "shape": "circle", "filled": true, "fill": "black", "stroke": "black", "strokeWidth": 1, "size": 210, "opacity": 1},
      "encoding": {
        "x": {"field": "x", "type": "quantitative", "scale": {"domain": [0, 25]}, "axis": null},
        "y": {"field": "y", "type": "quantitative", "scale": {"domain": [0, 25]}, "axis": null}
      }
    },
    {
      "data": {"name": "openPts"},
      "mark": {"type": "point", "shape": "circle", "filled": true, "fill": "white", "stroke": "black", "strokeWidth": 2.8, "size": 180, "opacity": 1},
      "encoding": {
        "x": {"field": "x", "type": "quantitative", "scale": {"domain": [0, 25]}, "axis": null},
        "y": {"field": "y", "type": "quantitative", "scale": {"domain": [0, 25]}, "axis": null}
      }
    },
    {
      "data": {"name": "smallPts"},
      "mark": {"type": "point", "shape": "circle", "filled": true, "fill": "white", "stroke": "black", "strokeWidth": 1.6, "size": 32, "opacity": 1},
      "encoding": {
        "x": {"field": "x", "type": "quantitative", "scale": {"domain": [0, 25]}, "axis": null},
        "y": {"field": "y", "type": "quantitative", "scale": {"domain": [0, 25]}, "axis": null}
      }
    },
    {
      "data": {"name": "labels"},
      "mark": {"type": "text", "font": "Liberation Sans", "fontWeight": "bold", "fontSize": 21, "align": "center", "baseline": "middle", "color": "black"},
      "encoding": {
        "x": {"field": "x", "type": "quantitative", "scale": {"domain": [0, 25], "nice": false, "zero": false},
              "axis": {"orient": "top", "title": null, "grid": false, "labels": false, "values": [2.5, 5, 7.5, 10, 12.5, 15, 17.5, 20, 22.5],
                       "tickSize": -9, "tickWidth": 1.5, "tickColor": "black", "domainColor": "black", "domainWidth": 2}},
        "y": {"field": "y", "type": "quantitative", "scale": {"domain": [0, 25], "nice": false, "zero": false},
              "axis": {"orient": "right", "title": null, "grid": false, "labels": false, "values": [2.5, 5, 7.5, 10, 12.5, 15, 17.5, 20, 22.5],
                       "tickSize": -9, "tickWidth": 1.5, "tickColor": "black", "domainColor": "black", "domainWidth": 2}},
        "text": {"field": "t", "type": "nominal"}
      }
    }
  ]
}
